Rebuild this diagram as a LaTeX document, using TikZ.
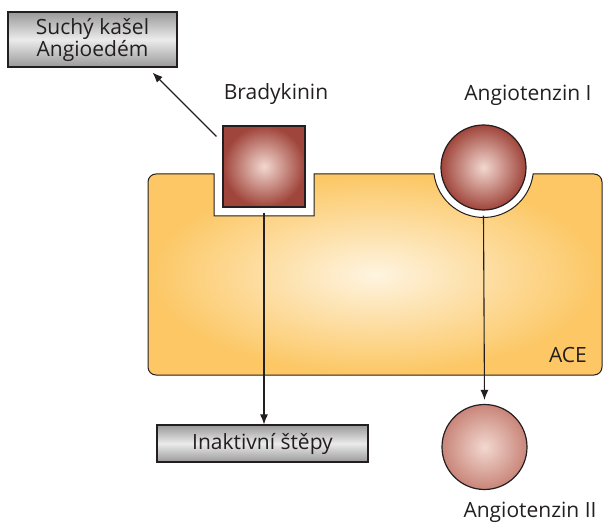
\documentclass[tikz,border=0pt]{standalone}
\usepackage{fontspec}
\setmainfont{Open Sans}
\usetikzlibrary{arrows.meta}

\definecolor{txtgray}{HTML}{231F20}
\definecolor{aceedge}{HTML}{FCC764}
\definecolor{acemid}{HTML}{FEF4E0}
\definecolor{molout}{HTML}{A0453B}
\definecolor{molin}{HTML}{F2D8D0}
\definecolor{molIIout}{HTML}{C98579}
\definecolor{boxdark}{HTML}{999999}
\definecolor{boxlight}{HTML}{EBEBEB}

\tikzset{
  lbl/.style={text=txtgray, font=\fontsize{21}{25}\selectfont, inner sep=0pt},
  graybox/.style={draw=txtgray, line width=1.2pt, top color=boxdark, bottom color=boxdark,
    middle color=boxlight, text=txtgray, font=\fontsize{21}{25}\selectfont,
    align=center, inner sep=0pt},
  mol/.style={draw=txtgray, line width=1.2pt, inner sep=0pt, inner color=molin, outer color=molout},
  arr/.style={-{Latex[length=10pt,width=8pt]}, line width=1.1pt, draw=txtgray},
}

\begin{document}
\begin{tikzpicture}[x=1pt,y=-1pt]
\useasboundingbox (0,0) rectangle (603,524);

% --- ACE (telo enzymu s vybezky) ---
\draw[draw=txtgray, line width=1pt, inner color=acemid, outer color=aceedge]
  (156,174) -- (214,174) -- (214,216) -- (314,216) -- (314,174) -- (434,174)
  arc[start angle=187.5, end angle=352.5, radius=50pt]
  -- (594,174) arc[start angle=90, end angle=0, radius=8pt]
  -- (602,367) arc[start angle=0, end angle=-90, radius=8pt]
  -- (156,375) arc[start angle=270, end angle=180, radius=8pt]
  -- (148,182) arc[start angle=180, end angle=90, radius=8pt] -- cycle;
\node[lbl] (ace) at (568,355) {ACE};

% --- SUBSTRATY ---
\node[mol, rectangle, minimum width=82pt, minimum height=81pt] (brady) at (264,166.5) {};
\node[lbl] (bradylbl) at (276,94) {Bradykinin};

\node[mol, circle, minimum size=85pt] (angI) at (483.5,167.5) {};
\node[lbl] (angIlbl) at (528,95) {Angiotenzin I};

\node[mol, circle, minimum size=85pt, outer color=molIIout] (angII) at (484.5,447) {};
\node[lbl] (angIIlbl) at (530,512) {Angiotenzin II};

% --- PRODUKTY ---
\node[graybox, minimum width=169pt, minimum height=55pt] (kasel) at (92.5,39.5)
  {Suchý kašel\\[-3pt]Angioedém};
\node[graybox, minimum width=211pt, minimum height=37pt] (stepy) at (262.5,443.5)
  {Inaktivní štěpy};

% --- SIPKY ---
\draw[arr] ([xshift=-6pt,yshift=-11pt]brady.north west) -- ([xshift=-25pt,yshift=-5pt]kasel.south east);
\draw[arr] ([yshift=-5pt]brady.south) -- (brady.south |- stepy.north);
\draw[arr] ([yshift=-5pt]angI.south) -- ([yshift=4pt]angII.north);

\end{tikzpicture}
\end{document}
